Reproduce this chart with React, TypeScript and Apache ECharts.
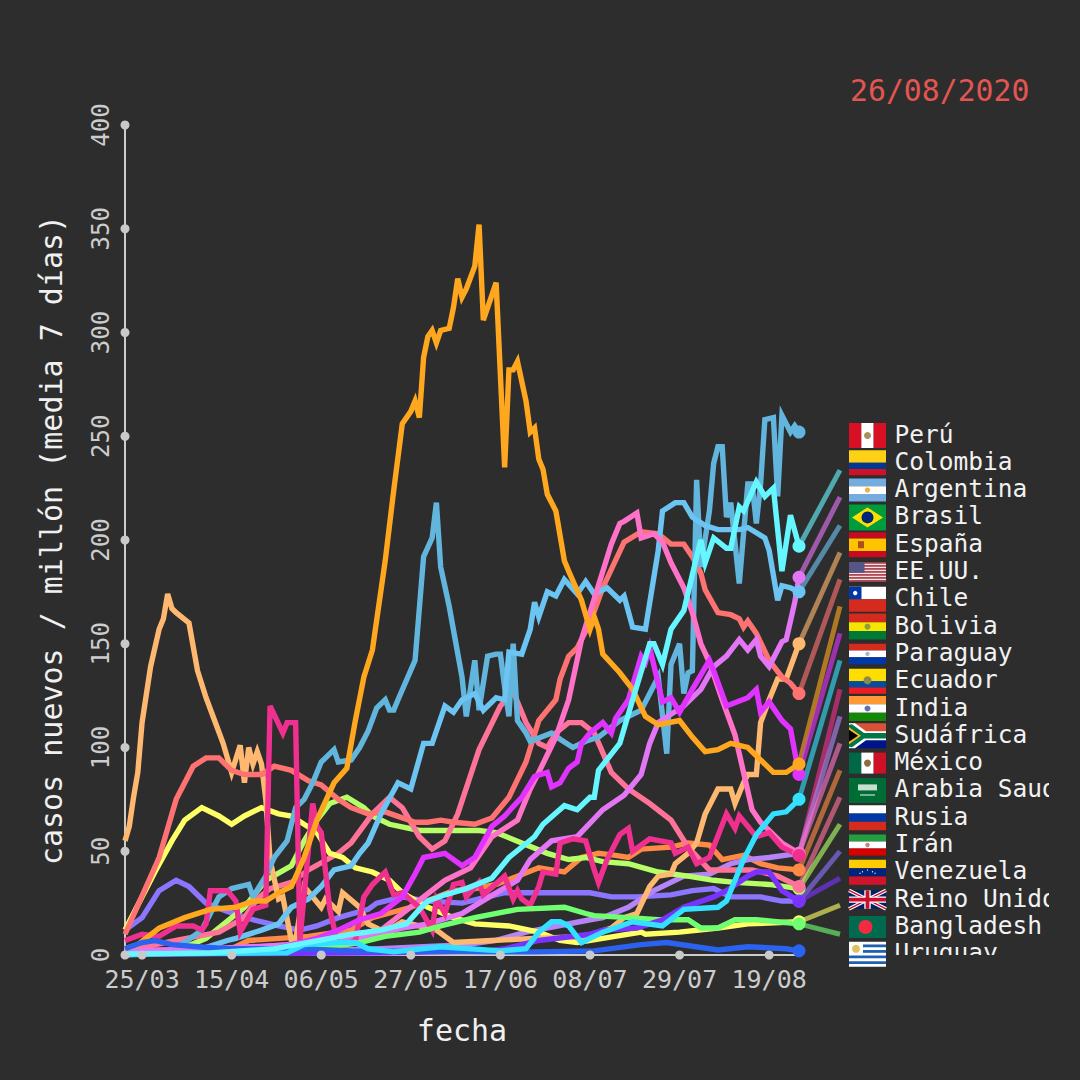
import React, { useEffect, useRef } from "react";
import * as echarts from "echarts";

const BG = "#2d2d2d";
const MONO = "'DejaVu Sans Mono', monospace";

type P = [number, number];

// 21/03 .. 26/08/2020, one category per day
const monthLengths: [number, number, number][] = [[3, 21, 31], [4, 1, 30], [5, 1, 31], [6, 1, 30], [7, 1, 31], [8, 1, 26]];
const dates: string[] = [];
monthLengths.forEach(([m, a, b]) => {
  for (let d = a; d <= b; d++) dates.push(`${String(d).padStart(2, "0")}/${String(m).padStart(2, "0")}`);
});
const xTickDays = [4, 25, 46, 67, 88, 109, 130, 151];
const yTicks = [0, 50, 100, 150, 200, 250, 300, 350, 400];

const peru: P[] = [[0,0],[5,0.5],[10,2],[14,6],[18,12],[22,28],[25,32],[29,34],[30,28],[33,38],[35,47],[38,55],[40,71],[42,75],[44,83],[46,93],[49,99],[50,93],[53,94],[55,100],[57,108],[59,119],[61,123],[62,118],[63,118],[64,123],[68,142],[70,192],[72,201],[73,218],[74,187],[76,168],[79,134],[80,115],[82,142],[83,118],[85,144],[87,145],[88,145],[89,129],[90,115],[91,150],[92,113],[94,107],[95,103],[100,107],[102,104],[105,100],[108,103],[111,105],[116,113],[121,118],[125,134],[127,97],[128,140],[130,150],[131,126],[132,136],[133,137],[134,229],[135,187],[137,214],[138,237],[139,245],[140,245],[141,211],[142,218],[144,179],[146,227],[147,227],[148,208],[149,227],[150,258],[152,259],[153,221],[154,260],[156,252],[157,255],[158,252]];
const colombia: P[] = [[0,0.5],[20,1],[35,3],[48,8],[53,10],[60,12],[66,15],[69,22],[71,26],[75,29],[80,32],[86,37],[90,47],[96,57],[98,63],[103,72],[106,70],[109,76],[110,76],[111,89],[116,102],[119,123],[123,150],[124,150],[126,140],[128,157],[131,166],[134,192],[135,200],[136,189],[138,201],[141,196],[142,196],[144,216],[145,214],[148,228],[150,221],[152,225],[154,185],[156,212],[158,197]];
const argentina: P[] = [[0,2],[20,3],[40,5],[55,8],[65,13],[71,15],[79,20],[83,25],[92,36],[95,46],[100,55],[106,57],[112,70],[117,77],[121,87],[123,102],[125,112],[131,120],[135,128],[138,139],[141,144],[144,152],[146,147],[148,152],[149,144],[151,139],[154,151],[155,152],[157,170],[158,182]];
const brasil: P[] = [[0,0.5],[10,1],[18,3],[24,7],[26,8],[32,12],[36,15],[39,23],[43,27],[46,33],[49,41],[53,43],[55,49],[57,54],[60,68],[64,83],[67,80],[70,102],[72,102],[75,120],[77,117],[79,123],[82,126],[84,118],[87,124],[89,123],[90,146],[93,145],[95,157],[96,170],[97,163],[99,175],[101,173],[103,181],[106,174],[108,180],[110,174],[113,177],[116,171],[117,173],[119,158],[122,157],[125,195],[126,214],[129,218],[131,218],[133,211],[136,207],[139,205],[141,205],[144,205],[146,206],[150,201],[151,195],[153,171],[154,178],[156,177],[158,175]];
const espana: P[] = [[0,55],[1,62],[2,76],[3,88],[4,112],[6,139],[8,157],[9,162],[10,174],[11,167],[12,165],[15,160],[17,137],[19,124],[21,113],[23,102],[25,88],[27,101],[28,83],[29,100],[30,92],[31,98],[32,92],[33,75],[34,46],[36,27],[37,28],[39,7],[40,7],[42,33],[46,23],[47,27],[50,21],[51,30],[55,23],[57,15],[61,11],[65,16],[73,12],[75,9],[77,6],[86,7],[96,8],[108,9],[114,13],[117,18],[120,20],[123,33],[125,38],[128,39],[129,44],[132,49],[134,54],[136,68],[139,80],[142,80],[143,73],[145,83],[146,87],[148,87],[149,112],[151,123],[153,133],[155,133],[158,150]];
const eeuu: P[] = [[0,10],[8,47],[12,75],[16,91],[19,95],[22,95],[25,89],[28,87],[32,87],[35,91],[39,89],[43,84],[46,82],[50,75],[53,71],[57,68],[61,69],[68,64],[71,64],[74,65],[77,64],[82,63],[86,66],[90,76],[94,93],[97,113],[101,123],[102,133],[104,144],[106,148],[109,160],[112,177],[117,199],[121,204],[125,203],[128,198],[131,198],[133,192],[135,184],[136,176],[139,165],[142,164],[144,162],[145,158],[146,161],[148,155],[151,142],[154,134],[156,131],[158,126]];
const chile: P[] = [[0,3],[3,5],[8,13],[14,18],[20,22],[26,23],[30,26],[33,26],[36,30],[39,33],[42,47],[45,65],[49,83],[52,90],[54,113],[56,134],[58,147],[61,190],[63,224],[65,256],[67,262],[68,267],[69,259],[70,288],[71,298],[72,301],[73,295],[74,301],[76,302],[77,312],[78,326],[79,317],[80,321],[82,332],[83,352],[84,306],[87,324],[89,235],[90,282],[91,282],[92,286],[94,267],[95,252],[96,254],[97,239],[98,234],[99,222],[101,214],[103,190],[104,185],[107,171],[109,157],[110,163],[111,157],[112,145],[116,136],[119,128],[122,115],[125,111],[130,113],[133,105],[136,98],[139,99],[142,102],[146,100],[149,94],[152,88],[155,88],[158,92]];
const bolivia: P[] = [[0,0.5],[25,1],[35,3],[45,8],[50,12],[55,17],[60,20],[65,28],[68,39],[70,47],[75,49],[79,43],[82,47],[86,62],[89,67],[93,76],[96,86],[99,88],[100,81],[102,83],[104,90],[106,93],[107,102],[109,107],[112,112],[114,107],[115,114],[118,123],[121,144],[122,141],[123,148],[126,122],[128,124],[130,117],[133,128],[137,142],[138,137],[141,120],[146,124],[148,128],[149,117],[151,122],[154,113],[156,109],[158,87]];
const paraguay: P[] = [[0,0.5],[38,1],[42,5],[50,6],[54,6],[57,3],[63,1.5],[74,4],[88,2],[94,3],[97,11],[100,16],[102,16],[104,14],[107,6],[112,11],[119,16],[126,14],[131,22],[139,23],[141,26],[145,46],[148,58],[152,68],[155,69],[158,75]];
const ecuador: P[] = [[0,7],[4,10],[8,9],[12,14],[16,14],[18,12],[19,15],[20,31],[24,31],[26,26],[27,11],[30,22],[33,24],[34,120],[37,107],[38,112],[40,112],[41,7],[44,73],[45,62],[46,59],[48,22],[50,4],[54,7],[56,28],[58,34],[61,40],[63,29],[65,30],[69,23],[72,12],[73,27],[75,20],[77,34],[79,35],[80,28],[83,35],[84,29],[89,38],[91,27],[92,31],[93,27],[95,24],[97,33],[98,40],[101,39],[102,54],[105,56],[108,55],[110,41],[111,35],[113,46],[116,58],[118,61],[119,50],[123,56],[128,54],[129,49],[132,52],[134,44],[137,47],[141,68],[143,61],[144,67],[148,57],[151,59],[154,52],[158,48]];
const india: P[] = [[0,1],[30,1],[60,3],[80,5],[87,7],[94,11],[109,17],[112,18],[118,23],[124,31],[131,38],[137,39],[142,44],[146,46],[151,47],[158,49]];
const sudafrica: P[] = [[0,2],[25,3],[45,6],[60,12],[70,28],[75,36],[81,42],[86,57],[92,65],[95,80],[97,88],[101,105],[104,123],[107,152],[114,198],[116,208],[117,209],[120,213],[121,201],[124,203],[126,199],[128,189],[131,177],[133,165],[135,150],[137,141],[140,123],[143,106],[145,88],[147,70],[149,64],[154,54],[158,49]];
const mexico: P[] = [[0,1],[25,3],[29,7],[43,9],[53,12],[58,18],[67,23],[77,31],[82,32],[87,34],[92,38],[97,42],[100,41],[103,40],[107,47],[111,49],[115,48],[118,47],[121,51],[128,52],[132,54],[137,53],[140,46],[145,48],[149,44],[153,42],[158,41]];
const arabia: P[] = [[0,2],[12,7],[22,11],[28,18],[31,27],[34,32],[39,35],[43,41],[50,49],[53,54],[58,68],[62,76],[65,71],[69,57],[72,51],[75,55],[78,68],[83,99],[88,120],[91,127],[94,112],[97,102],[99,100],[101,107],[104,112],[107,112],[110,107],[114,88],[118,80],[123,73],[128,65],[132,52],[137,41],[143,41],[147,41],[153,38],[158,33]];
const rusia: P[] = [[0,0.5],[12,2],[19,8],[28,23],[33,36],[39,43],[42,55],[45,65],[48,73],[52,76],[56,71],[58,67],[62,63],[69,60],[75,60],[83,60],[87,59],[93,54],[99,49],[104,46],[108,47],[112,45],[118,44],[125,40],[132,38],[138,36],[143,35],[151,34],[158,32]];
const iran: P[] = [[0,12],[4,18],[8,31],[12,36],[15,33],[19,25],[24,21],[30,17],[36,14],[41,12],[45,14],[50,18],[57,22],[59,25],[65,28],[71,26],[79,25],[83,27],[89,30],[96,30],[109,30],[114,28],[120,28],[128,29],[133,31],[138,32],[142,28],[149,28],[154,26],[158,26]];
const venezuela: P[] = [[0,0.5],[60,1],[85,2],[89,3],[97,7],[109,10],[112,12],[120,13],[126,17],[131,23],[138,28],[141,31],[146,38],[148,40],[151,40],[154,31],[158,26]];
const reinoUnido: P[] = [[0,12],[7,40],[11,55],[14,65],[18,71],[22,67],[25,63],[28,67],[32,71],[36,68],[39,67],[45,59],[48,49],[51,47],[54,42],[58,40],[62,36],[65,30],[71,23],[77,18],[82,15],[90,14],[97,11],[102,7],[106,6],[112,8],[121,11],[122,10],[130,11],[139,13],[146,15],[158,16]];
const bangladesh: P[] = [[0,0.5],[30,1],[45,3],[55,6],[61,9],[69,11],[74,14],[82,18],[92,22],[103,23],[108,20],[110,19],[118,18],[125,17],[132,17],[135,13],[139,13],[143,17],[148,17],[158,15]];
const uruguay: P[] = [[0,3],[4,6],[7,7],[11,5],[17,4],[24,3],[41,3],[53,2],[96,1.5],[110,2],[121,5],[127,6],[139,2.4],[146,4],[155,3],[158,2]];

// drawing order, bottom to top
const drawn: { data: P[]; color: string }[] = [
  { data: mexico, color: "#ff8a45" },
  { data: iran, color: "#8c75ff" },
  { data: india, color: "#b585f7" },
  { data: rusia, color: "#b6ff66" },
  { data: arabia, color: "#ff7399" },
  { data: reinoUnido, color: "#ffff66" },
  { data: espana, color: "#ffb870" },
  { data: eeuu, color: "#ff7272" },
  { data: peru, color: "#62b6de" },
  { data: brasil, color: "#6cc4f2" },
  { data: sudafrica, color: "#ff72c8" },
  { data: argentina, color: "#e276f5" },
  { data: ecuador, color: "#f0308f" },
  { data: bolivia, color: "#e033ff" },
  { data: chile, color: "#ffa81f" },
  { data: bangladesh, color: "#70ff70" },
  { data: venezuela, color: "#7a33ff" },
  { data: uruguay, color: "#2b62f0" },
  { data: paraguay, color: "#33e0ff" },
  { data: colombia, color: "#66f6ff" },
];

// tail from each end point towards the flag column
const tailSources = [colombia, argentina, brasil, espana, eeuu, chile, bolivia, paraguay, ecuador, india, sudafrica, mexico, arabia, rusia, iran, venezuela, reinoUnido, bangladesh];
const tailTargets = [233.7, 220.7, 207, 194, 181, 168, 155, 142, 128, 115, 102, 89, 76, 63, 50, 37, 24, 10];

const legendNames = ["Perú", "Colombia", "Argentina", "Brasil", "España", "EE.UU.", "Chile", "Bolivia", "Paraguay", "Ecuador", "India", "Sudáfrica", "México", "Arabia Saudí", "Rusia", "Irán", "Venezuela", "Reino Unido", "Bangladesh", "Uruguay"];
const flagHeights = [25, 25, 23, 26, 25, 19.5, 25, 26, 20.5, 25, 25, 25, 21, 25, 25, 21, 25, 18.5, 22, 25];

const hStripes: Record<string, [string, number][]> = {
  Colombia: [["#fcd116", 2], ["#003893", 1], ["#ce1126", 1]],
  Argentina: [["#74acdf", 1], ["#ffffff", 1], ["#74acdf", 1]],
  "España": [["#c60b1e", 1], ["#ffc400", 2], ["#c60b1e", 1]],
  Bolivia: [["#d52b1e", 1], ["#f9e300", 1], ["#007934", 1]],
  Paraguay: [["#d52b1e", 1], ["#ffffff", 1], ["#0038a8", 1]],
  Ecuador: [["#ffdd00", 2], ["#034ea2", 1], ["#ed1c24", 1]],
  India: [["#ff9933", 1], ["#ffffff", 1], ["#138808", 1]],
  Rusia: [["#ffffff", 1], ["#0039a6", 1], ["#d52b1e", 1]],
  "Irán": [["#239f40", 1], ["#ffffff", 1], ["#da0000", 1]],
  Venezuela: [["#ffcc00", 1], ["#00247d", 1], ["#cf142b", 1]],
};
const vStripes: Record<string, string[]> = {
  "Perú": ["#d91023", "#ffffff", "#d91023"],
  "México": ["#006847", "#ffffff", "#ce1126"],
};

function flagElements(name: string, cy: number, h: number, z: number): any[] {
  const x0 = 849, w = 37, y0 = cy - h / 2;
  const out: any[] = [];
  const rect = (x: number, y: number, rw: number, rh: number, fill: string) =>
    out.push({ type: "rect", silent: true, z, shape: { x, y, width: rw, height: rh }, style: { fill } });
  const dot = (x: number, y: number, r: number, fill: string) =>
    out.push({ type: "circle", silent: true, z, shape: { cx: x, cy: y, r }, style: { fill } });
  const poly = (points: number[][], fill: string) =>
    out.push({ type: "polygon", silent: true, z, shape: { points }, style: { fill } });
  const cx = x0 + w / 2;
  if (hStripes[name]) {
    const parts = hStripes[name];
    const total = parts.reduce((s, p) => s + p[1], 0);
    let y = y0;
    parts.forEach(([c, n]) => {
      const sh = (h * n) / total;
      rect(x0, y, w, sh, c);
      y += sh;
    });
  } else if (vStripes[name]) {
    vStripes[name].forEach((c, i) => rect(x0 + (i * w) / 3, y0, w / 3, h, c));
  }
  if (name === "Perú") dot(cx, cy, 3.5, "#a89060");
  if (name === "México") dot(cx, cy, 3.5, "#8f6a3c");
  if (name === "Argentina") dot(cx, cy, 2.6, "#f0b040");
  if (name === "España") rect(x0 + 9, cy - 3.5, 6, 7, "#a8501e");
  if (name === "Bolivia") dot(cx, cy, 3, "#8aa040");
  if (name === "Paraguay") dot(cx, cy, 2.2, "#a8b8c8");
  if (name === "Ecuador") dot(cx, cy - 1, 4, "#8a8a50");
  if (name === "India") dot(cx, cy, 3, "#6070b0");
  if (name === "Irán") dot(cx, cy, 2.2, "#d08080");
  if (name === "Venezuela") for (let i = 0; i < 7; i++) dot(cx - 7.5 + i * 2.5, cy + 1 - 3.2 * Math.sin((i / 6) * Math.PI), 0.6, "#ffffff");
  if (name === "Brasil") {
    rect(x0, y0, w, h, "#009b3a");
    poly([[x0 + 3, cy], [cx, y0 + 3], [x0 + w - 3, cy], [cx, y0 + h - 3]], "#fedf00");
    dot(cx, cy, 6, "#002776");
  }
  if (name === "EE.UU.") {
    for (let i = 0; i < 13; i++) rect(x0, y0 + (i * h) / 13, w, h / 13, i % 2 ? "#ffe0e0" : "#c04858");
    rect(x0, y0, w * 0.42, (h * 7) / 13, "#55558a");
  }
  if (name === "Chile") {
    rect(x0, y0, w, h / 2, "#ffffff");
    rect(x0, cy, w, h / 2, "#d52b1e");
    rect(x0, y0, 12.5, h / 2, "#0039a6");
    dot(x0 + 6.2, y0 + h / 4, 2.2, "#ffffff");
  }
  if (name === "Sudáfrica") {
    rect(x0, y0, w, h / 2, "#d8523a");
    rect(x0, cy, w, h / 2, "#001489");
    poly([[x0, y0], [x0 + 6, y0], [x0 + 17, cy - 4.5], [x0 + w, cy - 4.5], [x0 + w, cy + 4.5], [x0 + 17, cy + 4.5], [x0 + 6, y0 + h], [x0, y0 + h]], "#ffffff");
    poly([[x0, y0 + 1.5], [x0 + 3, y0 + 1], [x0 + 15, cy - 2.8], [x0 + w, cy - 2.8], [x0 + w, cy + 2.8], [x0 + 15, cy + 2.8], [x0 + 3, y0 + h - 1], [x0, y0 + h - 1.5]], "#007749");
    poly([[x0, y0 + 4], [x0 + 12, cy], [x0, y0 + h - 4]], "#ffb81c");
    poly([[x0, y0 + 6.5], [x0 + 9, cy], [x0, y0 + h - 6.5]], "#000000");
  }
  if (name === "Arabia Saudí") {
    rect(x0, y0, w, h, "#006c35");
    rect(x0 + 9, cy - 6, 19, 6, "#c8e0d0");
    rect(x0 + 11, cy + 4, 15, 1.2, "#c8e0d0");
  }
  if (name === "Reino Unido") {
    rect(x0, y0, w, h, "#012169");
    const diag = (a: number[], b: number[], c: string, lw: number) =>
      out.push({ type: "line", silent: true, z, shape: { x1: a[0], y1: a[1], x2: b[0], y2: b[1] }, style: { stroke: c, lineWidth: lw } });
    diag([x0, y0], [x0 + w, y0 + h], "#ffffff", 3.6);
    diag([x0, y0 + h], [x0 + w, y0], "#ffffff", 3.6);
    diag([x0, y0], [x0 + w, y0 + h], "#c8102e", 1.4);
    diag([x0, y0 + h], [x0 + w, y0], "#c8102e", 1.4);
    rect(cx - 3.2, y0, 6.4, h, "#ffffff");
    rect(x0, cy - 3.2, w, 6.4, "#ffffff");
    rect(cx - 1.9, y0, 3.8, h, "#c8102e");
    rect(x0, cy - 1.9, w, 3.8, "#c8102e");
  }
  if (name === "Bangladesh") {
    rect(x0, y0, w, h, "#006a4e");
    dot(x0 + 16.5, cy, 7, "#f42a41");
  }
  if (name === "Uruguay") {
    rect(x0, y0, w, h, "#ffffff");
    for (let i = 1; i < 9; i += 2) {
      const sy = y0 + (i * h) / 9;
      rect(i < 4 ? x0 + 14 : x0, sy, i < 4 ? w - 14 : w, h / 9, "#1f5fb0");
    }
    dot(x0 + 7, y0 + 7, 4, "#e0c060");
  }
  return out;
}

export default function App() {
  const ref = useRef<HTMLDivElement>(null);
  useEffect(() => {
    document.body.style.margin = "0";
    document.body.style.background = BG;
    const chart = echarts.init(ref.current!, undefined, { renderer: "svg" });
    const lineSeries = drawn.map((s) => ({
      type: "line",
      data: s.data,
      showSymbol: false,
      silent: true,
      clip: false,
      z: 3,
      lineStyle: { color: s.color, width: 5.4, cap: "butt", join: "miter", miterLimit: 10, opacity: 1 },
      itemStyle: { color: s.color },
    }));
    const dots = drawn.map((s) => ({
      type: "scatter",
      data: [s.data[s.data.length - 1]],
      symbol: "circle",
      symbolSize: 13,
      silent: true,
      clip: false,
      z: 5,
      itemStyle: { color: s.color, opacity: 1 },
    }));
    const tails = tailSources.map((src, i) => {
      const c = drawn.find((d) => d.data === src)!.color;
      return {
        type: "line",
        xAxisIndex: 1,
        yAxisIndex: 1,
        data: [[0, src[src.length - 1][1]], [1, tailTargets[i]]],
        showSymbol: false,
        silent: true,
        z: 2,
        lineStyle: { color: c, width: 5, opacity: 0.62, cap: "butt" },
      };
    });
    const axisDots = {
      type: "scatter",
      data: [...xTickDays.map((d) => [d, 0]), ...yTicks.map((v) => [0, v])],
      symbol: "circle",
      symbolSize: 9,
      silent: true,
      clip: false,
      z: 6,
      itemStyle: { color: "#c9c9c9", opacity: 1 },
    };
    const labelRows: any[] = [];
    legendNames.forEach((name, i) => {
      const cy = 434 + 27.3 * i;
      labelRows.push({
        type: "text",
        silent: true,
        z: 10,
        x: 894.5,
        y: cy - 12.5,
        style: { text: name, fill: "#f2f2f2", font: `24.5px ${MONO}` },
      });
    });
    const covers = [
      { type: "rect", silent: true, z: 11, shape: { x: 1049, y: 400, width: 31, height: 600 }, style: { fill: BG } },
      { type: "rect", silent: true, z: 11, shape: { x: 890, y: 955, width: 190, height: 20 }, style: { fill: BG } },
    ];
    const flags: any[] = [];
    legendNames.forEach((name, i) => flags.push(...flagElements(name, 435.5 + 27.3 * i, flagHeights[i], 12)));

    chart.setOption({
      animation: false,
      backgroundColor: BG,
      title: {
        text: "26/08/2020",
        left: 845,
        top: 70,
        textStyle: { fontFamily: MONO, fontSize: 29.8, fontWeight: "normal", color: "#e25652" },
      },
      grid: [
        { left: 125, top: 125, width: 674, height: 830 },
        { left: 799, top: 125, width: 41, height: 830 },
      ],
      xAxis: [
        {
          type: "category",
          gridIndex: 0,
          data: dates,
          boundaryGap: false,
          name: "fecha",
          nameLocation: "middle",
          nameGap: 60,
          nameTextStyle: { fontFamily: MONO, fontSize: 30, color: "#f0f0f0" },
          axisLine: { lineStyle: { color: "#cccccc", width: 2 } },
          axisTick: { show: false },
          splitLine: { show: false },
          axisLabel: {
            interval: (i: number) => xTickDays.includes(i),
            fontFamily: MONO,
            fontSize: 25,
            color: "#cccccc",
            margin: 12,
          },
        },
        { type: "value", gridIndex: 1, min: 0, max: 1, show: false },
      ],
      yAxis: [
        {
          type: "value",
          gridIndex: 0,
          min: 0,
          max: 400,
          interval: 50,
          name: "casos nuevos / millón (media 7 días)",
          nameLocation: "middle",
          nameGap: 59,
          nameTextStyle: { fontFamily: MONO, fontSize: 30, color: "#f0f0f0" },
          axisLine: { show: true, lineStyle: { color: "#cccccc", width: 2 } },
          axisTick: { show: false },
          splitLine: { show: false },
          axisLabel: { rotate: 90, fontFamily: MONO, fontSize: 24, color: "#cccccc", margin: 12 },
        },
        { type: "value", gridIndex: 1, min: 0, max: 400, show: false },
      ],
      series: [...tails, ...lineSeries, axisDots, ...dots],
      graphic: { elements: [...labelRows, ...covers, ...flags] },
    });
    return () => chart.dispose();
  }, []);
  return <div ref={ref} style={{ width: 1080, height: 1080 }} />;
}
